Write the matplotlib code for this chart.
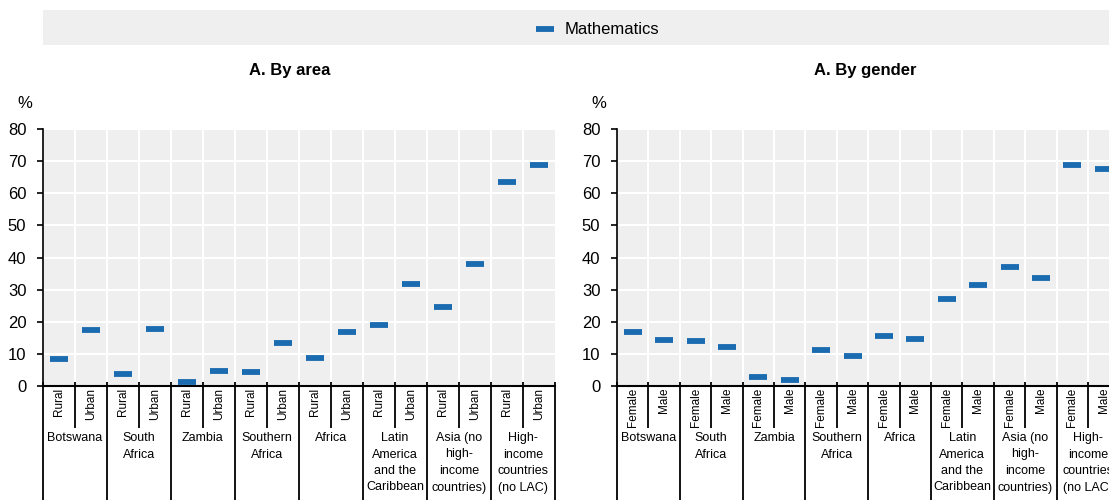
import matplotlib.pyplot as plt
import numpy as np
from matplotlib.patches import Rectangle

plt.rcParams['font.family'] = ['Liberation Sans', 'DejaVu Sans']

groups = ["Botswana", "South\nAfrica", "Zambia", "Southern\nAfrica", "Africa",
          "Latin\nAmerica\nand the\nCaribbean", "Asia (no\nhigh-\nincome\ncountries)",
          "High-\nincome\ncountries\n(no LAC)"]
area_labels = ["Rural", "Urban"]
gender_labels = ["Female", "Male"]

# values, pairs per group
area_vals = [8.3, 17.4, 3.7, 17.8, 1.3, 4.6, 4.4, 13.3, 8.8, 16.9,
             19.0, 31.7, 24.6, 38.0, 63.6, 68.9]
gender_vals = [16.8, 14.2, 14.0, 12.1, 2.7, 1.9, 11.1, 9.4, 15.6, 14.7,
               27.0, 31.5, 37.1, 33.6, 68.8, 67.6]

blue = "#1b6bb0"
bg = "#efefef"

fig = plt.figure(figsize=(11.09, 5.0), dpi=100)

# legend band
fig.patches.append(Rectangle((43/1109, 455/500), 1 - 43/1109, 35/500,
                             transform=fig.transFigure, facecolor=bg, edgecolor='none'))

W, H = 1109, 500
panels = [
    (43, 555, area_vals, area_labels, "A. By area", 290),
    (617, 617 + 16 * 31.4, gender_vals, gender_labels, "A. By gender", 865),
]
ax_h = (386 - 129)
for x0, x1, vals, sub, title, tx in panels:
    ax = fig.add_axes([x0 / W, (H - 386) / H, (x1 - x0) / W, ax_h / H])
    ax.set_facecolor(bg)
    n = len(vals)
    x = np.arange(n)
    line, = ax.plot(x, vals, linestyle='none', marker='_', color=blue,
                    markersize=13.5, markeredgewidth=4.2, label="Mathematics", zorder=3)
    ax.set_xlim(-0.5, n - 0.5)
    ax.set_ylim(0, 80)
    ax.set_yticks(range(0, 81, 10))
    ax.set_xticks([])
    ax.set_xticks(np.arange(0.5, n - 0.5, 1), minor=True)
    ax.grid(True, which='major', axis='y', color='white', linewidth=1.5)
    ax.grid(True, which='minor', axis='x', color='white', linewidth=1.5)
    ax.tick_params(axis='x', which='minor', length=0)
    ax.set_axisbelow(True)
    for s in ['top', 'right']:
        ax.spines[s].set_visible(False)
    ax.spines['left'].set_linewidth(1.2)
    ax.spines['bottom'].set_linewidth(1.5)
    ax.tick_params(axis='y', direction='out', length=4, width=1.2, labelsize=12, pad=8)
    fig.text((x0 - 26) / W, (H - 103) / H, "%", fontsize=12, ha='left', va='center')
    tr = ax.get_xaxis_transform()
    sub_bottom = -(428 - 386) / ax_h
    grp_bottom = -(H - 386) / ax_h
    for b in np.arange(-0.5, n, 1):
        k = int(round(b + 0.5))
        bottom = grp_bottom if k % 2 == 0 else sub_bottom
        ax.plot([b, b], [0.015, bottom], transform=tr, color='black',
                linewidth=1.3, clip_on=False, solid_capstyle='butt')
    for i in range(n):
        ax.text(i, -0.006, sub[i % 2], transform=tr, rotation=90, ha='center',
                va='top', fontsize=8.5)
    for g, name in enumerate(groups):
        ax.text(2 * g + 0.5, -(432 - 386) / ax_h, name, transform=tr, ha='center',
                va='top', fontsize=9, linespacing=1.5)
    fig.text(tx / W, (H - 71) / H, title, ha='center', va='center',
             fontsize=12, fontweight='bold')

fig.legend(handles=[line], loc='center', bbox_to_anchor=(597 / W, (H - 30) / H),
           frameon=False, fontsize=12, handlelength=1.2, handletextpad=0.6)

fig.savefig("out.png", dpi=100)
